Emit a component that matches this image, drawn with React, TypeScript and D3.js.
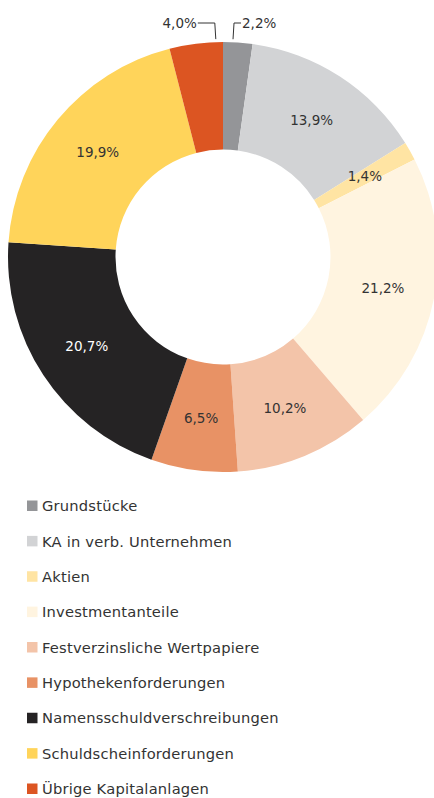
import React from 'react';
import * as d3 from 'd3';

const categories = [
  'Grundstücke',
  'KA in verb. Unternehmen',
  'Aktien',
  'Investmentanteile',
  'Festverzinsliche Wertpapiere',
  'Hypothekenforderungen',
  'Namensschuldverschreibungen',
  'Schuldscheinforderungen',
  'Übrige Kapitalanlagen',
];
const values = [2.2, 13.9, 1.4, 21.2, 10.2, 6.5, 20.7, 19.9, 4.0];
const colors = ['#949598', '#d2d3d5', '#ffe4a3', '#fff4e0', '#f3c4a9', '#e89265', '#252324', '#ffd45a', '#dc5522'];
// slices labelled outside the ring, with a leader line
const outsideLabels = ['Grundstücke', 'Übrige Kapitalanlagen'];

const width = 434;
const height = 798;
const cx = 223;
const cy = 257;
const outerR = 215;
const innerR = 107.5;
const labelR = 163;
const font = 'DejaVu Sans, Verdana, sans-serif';

const fmt = (v: number) => v.toFixed(1).replace('.', ',') + '%';

export default function App() {
  const pie = d3.pie<number>().sort(null).value((d) => d);
  const arcs = pie(values);
  const arc = d3.arc<d3.PieArcDatum<number>>().innerRadius(innerR).outerRadius(outerR);
  const labelArc = d3.arc<d3.PieArcDatum<number>>().innerRadius(labelR).outerRadius(labelR);

  const legendY = d3.scalePoint<string>().domain(categories).range([506, 789]);

  return (
    <svg width={width} height={height} style={{ position: 'absolute', left: 0, top: 0 }}>
      <g transform={`translate(${cx},${cy})`}>
        {arcs.map((a, i) => (
          <path key={categories[i]} d={arc(a) || ''} fill={colors[i]} />
        ))}
        {arcs.map((a, i) => {
          if (outsideLabels.includes(categories[i])) {
            // leader line anchored near the top boundary of the slice
            const right = a.startAngle < Math.PI;
            const ang = right ? a.startAngle + 0.046 : a.endAngle - 0.033;
            const x0 = Math.sin(ang) * (outerR + 3);
            const y0 = -Math.cos(ang) * (outerR + 3);
            const yTop = 23 - cy;
            const xTop = x0 + (right ? 1 : -1);
            const xEnd = xTop + (right ? 7 : -17);
            return (
              <g key={categories[i]}>
                <path
                  d={`M${x0},${y0}L${xTop},${yTop}L${xEnd},${yTop}`}
                  fill="none"
                  stroke="#333"
                  strokeWidth={1}
                />
                <text
                  x={xEnd + (right ? 1 : -1)}
                  y={yTop + 4.5}
                  textAnchor={right ? 'start' : 'end'}
                  fontFamily={font}
                  fontSize={13.5}
                  fill="#333"
                >
                  {fmt(values[i])}
                </text>
              </g>
            );
          }
          const [lx, ly] = labelArc.centroid(a);
          return (
            <text
              key={categories[i]}
              x={lx}
              y={ly}
              dy="0.35em"
              textAnchor="middle"
              fontFamily={font}
              fontSize={13.5}
              fill={i === 6 ? '#ffffff' : '#333'}
            >
              {fmt(values[i])}
            </text>
          );
        })}
      </g>
      <g>
        {categories.map((c, i) => (
          <g key={c} transform={`translate(0,${legendY(c)})`}>
            <rect x={27} y={-5.5} width={10.5} height={10.5} fill={colors[i]} />
            <text
              x={42}
              y={0}
              dy="0.35em"
              fontFamily={font}
              fontSize={14.7}
              letterSpacing={0.2}
              fill="#333"
            >
              {c}
            </text>
          </g>
        ))}
      </g>
    </svg>
  );
}
